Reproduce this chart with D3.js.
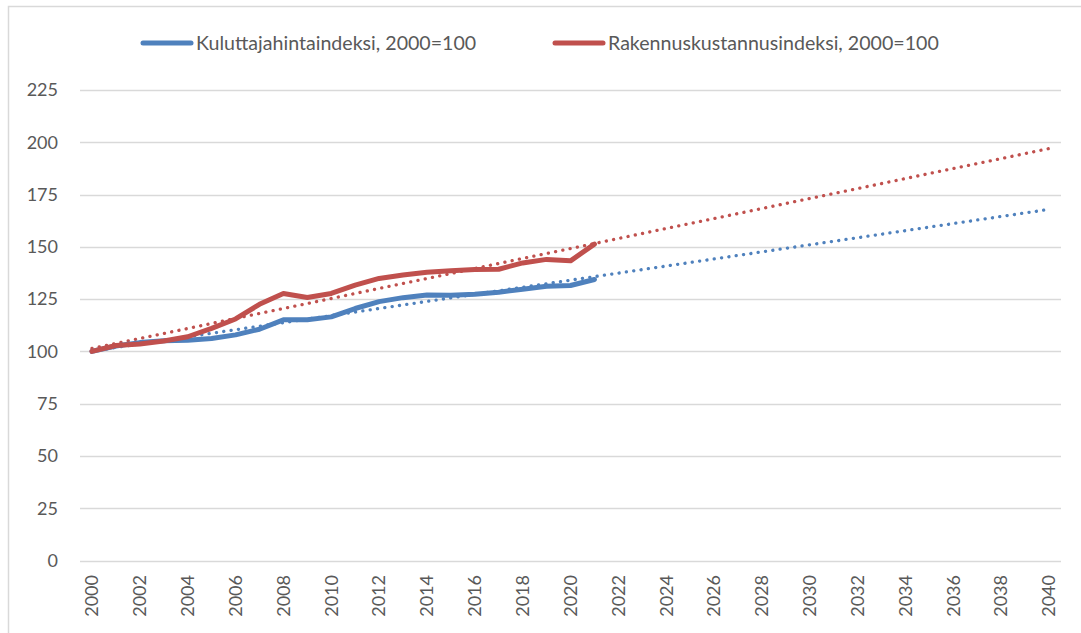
<!DOCTYPE html>
<html>
<head>
<meta charset="utf-8">
<script src="https://cdn.jsdelivr.net/npm/d3@7"></script>
<style>
  body { margin: 0; background: #fff; }
  text { font-family: Lato, "Liberation Sans", sans-serif; fill: #595959; }
</style>
</head>
<body>
<svg id="chart" width="1081" height="633"></svg>
<script>
// categories on the x axis
const years = [2000, 2001, 2002, 2003, 2004, 2005, 2006, 2007, 2008, 2009,
  2010, 2011, 2012, 2013, 2014, 2015, 2016, 2017, 2018, 2019,
  2020, 2021, 2022, 2023, 2024, 2025, 2026, 2027, 2028, 2029,
  2030, 2031, 2032, 2033, 2034, 2035, 2036, 2037, 2038, 2039, 2040];
const dataYears = years.slice(0, 22);

const kuluttaja = [100, 102.6, 104.2, 105.1, 105.3, 106.2, 107.9, 110.6, 115.1, 115.1,
  116.5, 120.5, 123.8, 125.7, 127.0, 126.8, 127.3, 128.3, 129.7, 131.1, 131.5, 134.4];
const rakennus = [100, 102.8, 103.5, 105, 107, 111, 115.5, 122.5, 127.7, 125.8,
  127.7, 131.7, 134.9, 136.5, 137.8, 138.6, 139.2, 139.3, 142.3, 144, 143.3, 151.3];

// linear trendlines (endpoints)
const trendYears = [2000, 2040];
const kuluttajaTrend = [100.2, 167.9];
const rakennusTrend = [101.4, 197];

const yTicks = [0, 25, 50, 75, 100, 125, 150, 175, 200, 225];
const seriesNames = ["Kuluttajahintaindeksi, 2000=100", "Rakennuskustannusindeksi, 2000=100"];
const colors = ["#4F81BD", "#C0504D"];

const svg = d3.select("#chart");
const plotLeft = 80, plotRight = 1061, plotTop = 90, plotBottom = 560.5;

// outer frame
svg.append("rect")
  .attr("x", 8.5).attr("y", 6.5)
  .attr("width", 1100).attr("height", 700)
  .attr("fill", "none").attr("stroke", "#d9d9d9").attr("stroke-width", 1.5);

const x = d3.scaleBand().domain(years).range([plotLeft, plotRight]);
const y = d3.scaleLinear().domain([0, 225]).range([plotBottom, plotTop]);
const cx = d => x(d) + x.bandwidth() / 2;

// gridlines
svg.append("g").selectAll("line")
  .data(yTicks).enter().append("line")
  .attr("x1", plotLeft).attr("x2", plotRight)
  .attr("y1", d => Math.round(y(d)) + 0.5).attr("y2", d => Math.round(y(d)) + 0.5)
  .attr("stroke", "#d9d9d9").attr("stroke-width", 1.3);

// y labels
svg.append("g").selectAll("text")
  .data(yTicks).enter().append("text")
  .attr("x", 58).attr("y", d => y(d))
  .attr("dy", "0.35em")
  .attr("text-anchor", "end")
  .style("font-size", "18px")
  .text(d => d);

// x labels (rotated)
svg.append("g").selectAll("text")
  .data(years.filter((d, i) => i % 2 === 0)).enter().append("text")
  .attr("transform", d => `translate(${cx(d)},575) rotate(-90)`)
  .attr("dy", "0.35em")
  .attr("text-anchor", "end")
  .style("font-size", "18px")
  .text(d => d);

// trendlines (dotted)
const trendLine = d3.line().x(d => cx(d[0])).y(d => y(d[1]));
[kuluttajaTrend, rakennusTrend].forEach((t, i) => {
  svg.append("path")
    .datum(trendYears.map((yr, j) => [yr, t[j]]))
    .attr("d", trendLine)
    .attr("fill", "none")
    .attr("stroke", colors[i])
    .attr("stroke-width", 3.3)
    .attr("stroke-linecap", "round")
    .attr("stroke-dasharray", "0.1,7.3");
});

// data lines
const line = d3.line().x(d => cx(d[0])).y(d => y(d[1]));
[kuluttaja, rakennus].forEach((vals, i) => {
  svg.append("path")
    .datum(dataYears.map((yr, j) => [yr, vals[j]]))
    .attr("d", line)
    .attr("fill", "none")
    .attr("stroke", colors[i])
    .attr("stroke-width", 5)
    .attr("stroke-linejoin", "round")
    .attr("stroke-linecap", "round");
});

// legend
const legendX = [143, 555];
seriesNames.forEach((name, i) => {
  const g = svg.append("g").attr("transform", `translate(${legendX[i]},43)`);
  g.append("line")
    .attr("x1", 0).attr("x2", 48)
    .attr("stroke", colors[i]).attr("stroke-width", 5)
    .attr("stroke-linecap", "round");
  g.append("text")
    .attr("x", 53).attr("dy", "0.35em")
    .style("font-size", "19.6px")
    .text(name);
});
</script>
</body>
</html>
